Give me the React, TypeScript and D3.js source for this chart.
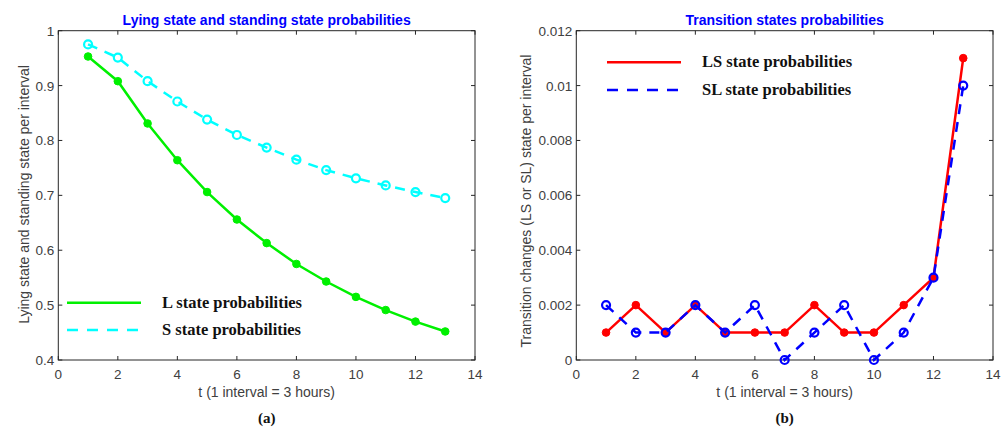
import React from "react";
import * as d3 from "d3";

const t = [1, 2, 3, 4, 5, 6, 7, 8, 9, 10, 11, 12, 13];
const lState = [0.953, 0.908, 0.831, 0.764, 0.706, 0.656, 0.613, 0.575, 0.543, 0.515, 0.491, 0.47, 0.452];
const sState = [0.975, 0.951, 0.908, 0.871, 0.838, 0.81, 0.787, 0.765, 0.746, 0.731, 0.718, 0.706, 0.695];
const lsState = [0.001, 0.002, 0.001, 0.002, 0.001, 0.001, 0.001, 0.002, 0.001, 0.001, 0.002, 0.003, 0.011];
const slState = [0.002, 0.001, 0.001, 0.002, 0.001, 0.002, 0, 0.001, 0.002, 0, 0.001, 0.003, 0.01];
const xTicks = [0, 2, 4, 6, 8, 10, 12, 14];
const yTicksA = [0.4, 0.5, 0.6, 0.7, 0.8, 0.9, 1];
const yTicksB = [0, 0.002, 0.004, 0.006, 0.008, 0.01, 0.012];

const TOP = 30.7;
const BOTTOM = 360;
const AX = "#262626";
const TICKC = "#404040";
const SANS = "'Liberation Sans', Arial, sans-serif";
const SERIF = "'Liberation Serif', 'DejaVu Serif', serif";

type Series = { values: number[]; color: string; dashed: boolean; filled: boolean; label: string };

function Panel(props: {
  left: number; right: number; yDomain: [number, number]; yTicks: number[]; yFmt: (v: number) => string;
  title: string; ylabel: string; ylabelX: number; ylabelY: number; caption: string; series: Series[];
  legendX: number; legendY: number; legendGap: number;
}) {
  const { left, right, yDomain, yTicks, yFmt, title, ylabel, ylabelX, ylabelY, caption, series, legendX, legendY, legendGap } = props;
  const x = d3.scaleLinear().domain([0, 14]).range([left, right]);
  const y = d3.scaleLinear().domain(yDomain).range([BOTTOM, TOP]);
  const cx = (left + right) / 2;
  const line = d3.line<number>().x((_, i) => x(t[i])).y((v) => y(v));
  return (
    <g>
      <rect x={left} y={TOP} width={right - left} height={BOTTOM - TOP} fill="#fff" stroke={AX} strokeWidth={1} />
      {xTicks.map((v) => (
        <g key={"x" + v}>
          <line x1={x(v)} x2={x(v)} y1={BOTTOM} y2={BOTTOM - 4} stroke={AX} />
          <line x1={x(v)} x2={x(v)} y1={TOP} y2={TOP + 4} stroke={AX} />
          <text x={x(v)} y={BOTTOM + 19} textAnchor="middle" fontFamily={SANS} fontSize={13.5} fill={TICKC}>{v}</text>
        </g>
      ))}
      {yTicks.map((v) => (
        <g key={"y" + v}>
          <line x1={left} x2={left + 4} y1={y(v)} y2={y(v)} stroke={AX} />
          <line x1={right} x2={right - 4} y1={y(v)} y2={y(v)} stroke={AX} />
          <text x={left - 4} y={y(v) + 5} textAnchor="end" fontFamily={SANS} fontSize={13.5} fill={TICKC}>{yFmt(v)}</text>
        </g>
      ))}
      <text x={cx} y={25} textAnchor="middle" fontFamily={SANS} fontWeight="bold" fontSize={14} fill="#0000ff">{title}</text>
      <text x={cx} y={397} textAnchor="middle" fontFamily={SANS} fontSize={14} fill={TICKC}>t (1 interval = 3 hours)</text>
      <text x={cx} y={423} textAnchor="middle" fontFamily={SERIF} fontWeight="bold" fontSize={15} fill="#111">{caption}</text>
      <text transform={`translate(${ylabelX},${ylabelY}) rotate(-90)`} textAnchor="middle" fontFamily={SANS} fontSize={14} fill={TICKC}>{ylabel}</text>
      {series.map((s, k) => (
        <g key={"s" + k}>
          <path d={line(s.values) || ""} fill="none" stroke={s.color} strokeWidth={2.5} strokeDasharray={s.dashed ? "10,8" : undefined} />
          {s.values.map((v, i) => (
            <circle key={i} cx={x(t[i])} cy={y(v)} r={s.filled ? 3.8 : 4}
              fill={s.filled ? s.color : "none"} stroke={s.color} strokeWidth={s.filled ? 1 : 2.2} />
          ))}
        </g>
      ))}
      {series.map((s, k) => (
        <g key={"l" + k}>
          <line x1={legendX} x2={legendX + 74} y1={legendY + k * legendGap} y2={legendY + k * legendGap}
            stroke={s.color} strokeWidth={2.5} strokeDasharray={s.dashed ? "11,9" : undefined} />
          <text x={legendX + 95} y={legendY + k * legendGap + 5} fontFamily={SERIF} fontWeight="bold" fontSize={16.5} fill="#111">{s.label}</text>
        </g>
      ))}
    </g>
  );
}

export default function App() {
  return (
    <svg width={1008} height={428} style={{ position: "absolute", left: 0, top: 0, background: "#fff" }}>
      <rect width={1008} height={428} fill="#fff" />
      <Panel left={58.3} right={475} yDomain={[0.4, 1]} yTicks={yTicksA}
        yFmt={(v) => (v === 1 ? "1" : d3.format(".1f")(v))}
        title="Lying state and standing state probabilities"
        ylabel="Lying state and standing state per interval" ylabelX={28.5} ylabelY={194.5} caption="(a)"
        series={[
          { values: lState, color: "#00f000", dashed: false, filled: true, label: "L state probabilities" },
          { values: sState, color: "#00ffff", dashed: true, filled: false, label: "S state probabilities" },
        ]}
        legendX={67} legendY={302.7} legendGap={27.3} />
      <Panel left={576.3} right={993} yDomain={[0, 0.012]} yTicks={yTicksB}
        yFmt={(v) => (v === 0 ? "0" : String(+v.toFixed(3)))}
        title="Transition states probabilities"
        ylabel="Transition changes (LS or SL) state per interval" ylabelX={531} ylabelY={201} caption="(b)"
        series={[
          { values: lsState, color: "#ff0000", dashed: false, filled: true, label: "LS state probabilities" },
          { values: slState, color: "#0000ff", dashed: true, filled: false, label: "SL state probabilities" },
        ]}
        legendX={607} legendY={62.3} legendGap={27.7} />
    </svg>
  );
}
